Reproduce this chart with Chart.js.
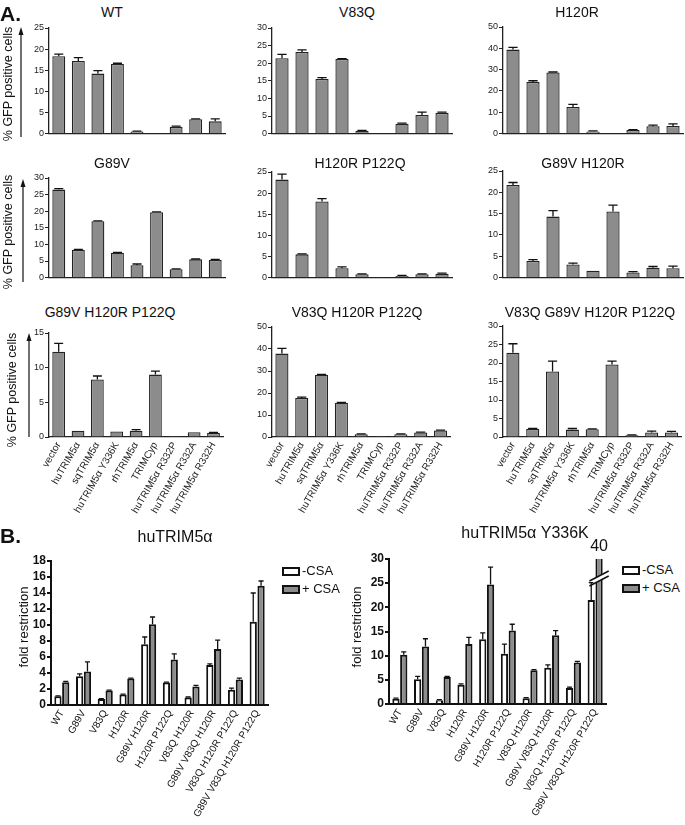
<!DOCTYPE html>
<html>
<head>
<meta charset="utf-8">
<script src="https://cdn.jsdelivr.net/npm/chart.js@4.4.0/dist/chart.umd.min.js"></script>
<style>
  body { margin: 0; background: #fff; }
  #fig { position: relative; width: 685px; height: 825px; overflow: hidden; font-family: "Liberation Sans", Arial, sans-serif; color: #111; }
  #fig canvas { position: absolute; }
  .txt { position: absolute; white-space: nowrap; transform: translate(-50%, -50%); line-height: 1; }
  .rot { transform: translate(-50%, -50%) rotate(-90deg); }
  .letter { position: absolute; font-weight: bold; font-size: 21px; line-height: 1; }
  .key { position: absolute; font-size: 13px; line-height: 1; white-space: nowrap; }
  .key i { display: inline-block; box-sizing: border-box; width: 18px; height: 9px; border: 2px solid #111; vertical-align: middle; margin-right: 2px; }
</style>
</head>
<body>
<div id="fig">
  <svg width="685" height="825" style="position:absolute;left:0;top:0">
    <line x1="21" y1="137" x2="21" y2="33" stroke="#111" stroke-width="1.2"/>
    <polygon points="21,27 18.5,35 23.5,35" fill="#111"/>
    <line x1="23" y1="282" x2="23" y2="185" stroke="#111" stroke-width="1.2"/>
    <polygon points="23,179 20.5,187 25.5,187" fill="#111"/>
    <line x1="29" y1="437" x2="29" y2="339" stroke="#111" stroke-width="1.2"/>
    <polygon points="29,333 26.5,341 31.5,341" fill="#111"/>
  </svg>
</div>
<script>
const FONT = '"Liberation Sans", Arial, sans-serif';

// ---- panel A: % GFP positive cells ----
const constructs = ['vector', 'huTRIM5α', 'sqTRIM5α', 'huTRIM5α Y336K', 'rhTRIM5α', 'TRIMCyp', 'huTRIM5α R332P', 'huTRIM5α R332A', 'huTRIM5α R332H'];
const virusTitles = ['WT', 'V83Q', 'H120R', 'G89V', 'H120R P122Q', 'G89V H120R', 'G89V H120R P122Q', 'V83Q H120R P122Q', 'V83Q G89V H120R P122Q'];

const gfpWT = [18.3, 17.2, 14.2, 16.5, 0.5, 0.15, 1.6, 3.4, 2.9];
const errWT = [0.5, 0.8, 0.7, 0.15, 0.1, 0, 0.15, 0.1, 0.6];
const gfpV83Q = [21.4, 23.2, 15.5, 21.2, 0.8, 0.15, 2.8, 5.3, 5.9];
const errV83Q = [1.1, 0.6, 0.4, 0.1, 0.1, 0, 0.2, 0.8, 0.2];
const gfpH120R = [39.4, 24.2, 28.7, 12.5, 1.0, 0.3, 1.7, 3.5, 3.6];
const errH120R = [1.0, 0.6, 0.2, 1.2, 0.3, 0, 0.2, 0.5, 1.0];
const gfpG89V = [26.5, 8.3, 17.0, 7.5, 3.7, 19.7, 2.5, 5.5, 5.3];
const errG89V = [0.3, 0.2, 0.1, 0.1, 0.4, 0.1, 0.1, 0.1, 0.2];
const gfpH120RP122Q = [23.2, 5.5, 18.0, 2.2, 0.8, 0.1, 0.4, 0.8, 0.9];
const errH120RP122Q = [1.3, 0.1, 0.7, 0.35, 0.1, 0, 0.1, 0.1, 0.15];
const gfpG89VH120R = [21.7, 3.9, 14.3, 3.1, 1.6, 15.5, 1.2, 2.3, 2.2];
const errG89VH120R = [0.6, 0.3, 1.4, 0.3, 0, 1.5, 0.2, 0.3, 0.5];
const gfpG89VH120RP122Q = [12.3, 0.9, 8.3, 0.8, 0.9, 9.0, 0.15, 0.7, 0.6];
const errG89VH120RP122Q = [1.2, 0, 0.5, 0, 0.15, 0.5, 0, 0, 0.05];
const gfpV83QH120RP122Q = [37.9, 17.7, 28.3, 15.6, 1.2, 0.4, 1.3, 2.1, 3.0];
const errV83QH120RP122Q = [2.4, 0.4, 0.2, 0.1, 0.2, 0, 0.1, 0.1, 0.1];
const gfpQuad = [22.8, 2.2, 17.7, 2.0, 2.1, 19.6, 0.45, 1.2, 1.2];
const errQuad = [2.4, 0.1, 2.8, 0.3, 0.1, 0.9, 0.1, 0.4, 0.3];

const yMaxA = [25, 30, 50, 30, 25, 25, 15, 50, 30];
const yStepA = [5, 5, 10, 5, 5, 5, 5, 10, 5];

// ---- panel B: fold restriction ----
const mutants = ['WT', 'G89V', 'V83Q', 'H120R', 'G89V H120R', 'H120R P122Q', 'V83Q H120R', 'G89V V83Q H120R', 'V83Q H120R P122Q', 'G89V V83Q H120R P122Q'];
const huNoCsa = [1.1, 3.6, 0.75, 1.3, 7.6, 2.8, 0.95, 5.0, 1.9, 10.4];
const huNoCsaErr = [0.05, 0.3, 0.05, 0.05, 0.9, 0.05, 0.05, 0.15, 0.2, 3.6];
const huCsa = [2.85, 4.2, 1.8, 3.3, 10.1, 5.7, 2.3, 7.0, 3.2, 14.9];
const huCsaErr = [0.1, 1.2, 0.05, 0.05, 0.9, 0.7, 0.15, 1.1, 0.15, 0.6];
const ykNoCsa = [1.1, 5.1, 0.8, 4.0, 13.4, 10.4, 1.2, 7.5, 3.3, 21.5];
const ykNoCsaErr = [0.1, 0.6, 0.1, 0.15, 1.3, 2.0, 0.1, 0.6, 0.2, 3.6];
const ykCsa = [10.2, 11.9, 5.6, 12.4, 24.7, 15.2, 7.0, 14.2, 8.6, 40];
const ykCsaErr = [0.6, 1.6, 0.1, 1.4, 3.6, 1.3, 0.1, 1.0, 0.2, 0];

const gfpSeries = [gfpWT, gfpV83Q, gfpH120R, gfpG89V, gfpH120RP122Q, gfpG89VH120R, gfpG89VH120RP122Q, gfpV83QH120RP122Q, gfpQuad];
const gfpErrors = [errWT, errV83Q, errH120R, errG89V, errH120RP122Q, errG89VH120R, errG89VH120RP122Q, errV83QH120RP122Q, errQuad];

// plot area geometry (page pixels)
const colsA = [[49, 225], [272, 452], [503, 683]];
const topsA = [[28, 28, 27], [178, 172, 171], [333, 327, 326]];
const bottomsA = [138, 282, 437];
const titleA = [[112, 12], [357, 12], [577, 12], [112, 163], [360, 163], [583, 163], [110, 312], [357, 312], [590, 312]];

const fig = document.getElementById('fig');

function makeCanvas(x, y, w, h) {
  const c = document.createElement('canvas');
  c.width = w; c.height = h;
  c.style.left = x + 'px';
  c.style.top = y + 'px';
  fig.appendChild(c);
  return c;
}

function addText(text, x, y, css, cls) {
  const d = document.createElement('div');
  d.className = cls || 'txt';
  d.textContent = text;
  d.style.left = x + 'px';
  d.style.top = y + 'px';
  if (css) d.style.cssText += css;
  fig.appendChild(d);
  return d;
}

// upward error bars from dataset.errors
const errorBars = {
  id: 'errorBars',
  afterDatasetsDraw(chart, args, opts) {
    const ctx = chart.ctx, y = chart.scales.y;
    chart.data.datasets.forEach((ds, i) => {
      if (!ds.errors) return;
      chart.getDatasetMeta(i).data.forEach((bar, j) => {
        const v = ds.data[j], e = ds.errors[j];
        if (!e || v > y.max) return;
        const yTop = y.getPixelForValue(v + e);
        const half = bar.width * opts.cap / 2;
        ctx.save();
        ctx.strokeStyle = '#111';
        ctx.lineWidth = opts.width;
        ctx.beginPath();
        ctx.moveTo(bar.x, bar.y);
        ctx.lineTo(bar.x, yTop);
        ctx.moveTo(bar.x - half, yTop);
        ctx.lineTo(bar.x + half, yTop);
        ctx.stroke();
        ctx.restore();
      });
    });
  }
};

// broken bar for values above the axis max
const axisBreak = {
  id: 'axisBreak',
  afterDatasetsDraw(chart) {
    const ctx = chart.ctx, y = chart.scales.y, area = chart.chartArea;
    chart.data.datasets.forEach((ds, i) => {
      chart.getDatasetMeta(i).data.forEach((bar, j) => {
        const v = ds.data[j];
        if (v <= y.max) return;
        const x0 = bar.x - bar.width / 2 - 6, x1 = bar.x + bar.width / 2 + 6;
        const cy = area.top + 17, s = 5, gap = 5;
        ctx.save();
        ctx.fillStyle = '#fff';
        ctx.beginPath();
        ctx.moveTo(x0 + 4, cy + s - 1);
        ctx.lineTo(x1 - 4, cy - s + 1);
        ctx.lineTo(x1 - 4, cy - s + 1 + gap);
        ctx.lineTo(x0 + 4, cy + s - 1 + gap);
        ctx.closePath();
        ctx.fill();
        ctx.strokeStyle = '#111';
        ctx.lineWidth = 1.5;
        ctx.beginPath();
        ctx.moveTo(x0, cy + s); ctx.lineTo(x1, cy - s);
        ctx.moveTo(x0, cy + s + gap); ctx.lineTo(x1, cy - s + gap);
        ctx.stroke();
        ctx.fillStyle = '#111';
        ctx.font = '16px ' + FONT;
        ctx.textAlign = 'center';
        ctx.textBaseline = 'middle';
        ctx.fillText(String(v), bar.x, area.top - 12);
        ctx.restore();
      });
    });
  }
};

// ---- panel A charts ----
for (let i = 0; i < 9; i++) {
  const row = Math.floor(i / 3), col = i % 3;
  const L = colsA[col][0], R = colsA[col][1];
  const top = topsA[row][col], bottom = bottomsA[row];
  const showLabels = row === 2;
  const padT = 8, yW = 30, padR = 2, xH = showLabels ? 80 : 2;
  const canvas = makeCanvas(L - yW, top - padT, yW + (R - L) + padR, padT + (bottom - top) + xH);

  new Chart(canvas, {
    type: 'bar',
    data: {
      labels: constructs,
      datasets: [{
        data: gfpSeries[i],
        errors: gfpErrors[i],
        backgroundColor: '#8c8c8c',
        borderColor: '#222',
        borderWidth: 1.3,
        barPercentage: 0.66,
        categoryPercentage: 1
      }]
    },
    options: {
      responsive: false,
      animation: false,
      devicePixelRatio: 1,
      layout: { padding: { top: padT, right: padR, left: 0, bottom: 0 } },
      plugins: {
        legend: { display: false },
        tooltip: { enabled: false },
        errorBars: { cap: 0.7, width: 1.3 }
      },
      scales: {
        x: {
          grid: { display: false, drawTicks: false },
          border: { color: '#222', width: 1.3 },
          ticks: { display: showLabels, minRotation: 60, maxRotation: 60, autoSkip: false, padding: 3, color: '#222', font: { family: FONT, size: 10 } },
          afterFit: s => { s.height = xH; }
        },
        y: {
          min: 0,
          max: yMaxA[i],
          ticks: { stepSize: yStepA[i], autoSkip: false, padding: 1, color: '#222', font: { family: FONT, size: 9 } },
          grid: { drawOnChartArea: false, tickLength: 4, color: '#222', lineWidth: 1 },
          border: { color: '#222', width: 1.3 },
          afterFit: s => { s.width = yW; }
        }
      }
    },
    plugins: [errorBars]
  });

  addText(virusTitles[i], titleA[i][0], titleA[i][1], 'font-size:14px;');
}

// ---- panel B charts ----
function panelB(L, R, top, bottom, yMax, step, noCsa, noCsaErr, csa, csaErr) {
  const padT = 22, yW = 40, padR = 8, xH = 122;
  const canvas = makeCanvas(L - yW, top - padT, yW + (R - L) + padR, padT + (bottom - top) + xH);
  new Chart(canvas, {
    type: 'bar',
    data: {
      labels: mutants,
      datasets: [
        { label: '-CSA', data: noCsa, errors: noCsaErr, backgroundColor: '#fff', borderColor: '#111', borderWidth: 2, barPercentage: 0.93, categoryPercentage: 0.72 },
        { label: '+ CSA', data: csa, errors: csaErr, backgroundColor: '#8c8c8c', borderColor: '#111', borderWidth: 2, barPercentage: 0.93, categoryPercentage: 0.72 }
      ]
    },
    options: {
      responsive: false,
      animation: false,
      devicePixelRatio: 1,
      layout: { padding: { top: padT, right: padR, left: 0, bottom: 0 } },
      plugins: {
        legend: { display: false },
        tooltip: { enabled: false },
        errorBars: { cap: 0.7, width: 1.3 }
      },
      scales: {
        x: {
          grid: { display: false, drawTicks: false },
          border: { color: '#111', width: 2 },
          ticks: { minRotation: 60, maxRotation: 60, autoSkip: false, padding: 3, color: '#111', font: { family: FONT, size: 10 } },
          afterFit: s => { s.height = xH; }
        },
        y: {
          min: 0,
          max: yMax,
          ticks: { stepSize: step, autoSkip: false, padding: 1, color: '#111', font: { family: FONT, size: 12, weight: 'bold' } },
          grid: { drawOnChartArea: false, tickLength: 4, color: '#111', lineWidth: 2 },
          border: { color: '#111', width: 2 },
          afterFit: s => { s.width = yW; }
        }
      }
    },
    plugins: [errorBars, axisBreak]
  });
}

panelB(51, 268, 561, 705, 18, 2, huNoCsa, huNoCsaErr, huCsa, huCsaErr);
panelB(389, 606, 559, 704, 30, 5, ykNoCsa, ykNoCsaErr, ykCsa, ykCsaErr);

// titles, axis titles, legends
addText('A.', 0, 3, '', 'letter');
addText('B.', 0, 525, '', 'letter');
addText('% GFP positive cells', 8, 84, 'font-size:12.5px;', 'txt rot');
addText('% GFP positive cells', 8, 232, 'font-size:12.5px;', 'txt rot');
addText('% GFP positive cells', 12, 390, 'font-size:12.5px;', 'txt rot');
addText('huTRIM5α', 175, 537, 'font-size:16px;');
addText('huTRIM5α Y336K', 525, 533, 'font-size:16px;');
addText('fold restriction', 23, 627, 'font-size:13px;', 'txt rot');
addText('fold restriction', 356, 627, 'font-size:13px;', 'txt rot');

function legend(x, y) {
  const k1 = document.createElement('div');
  k1.className = 'key';
  k1.style.left = x + 'px'; k1.style.top = y + 'px';
  k1.innerHTML = '<i style="background:#fff"></i>-CSA';
  fig.appendChild(k1);
  const k2 = document.createElement('div');
  k2.className = 'key';
  k2.style.left = x + 'px'; k2.style.top = (y + 18) + 'px';
  k2.innerHTML = '<i style="background:#8c8c8c"></i>+ CSA';
  fig.appendChild(k2);
}
legend(282, 564);
legend(622, 563);
</script>
</body>
</html>
